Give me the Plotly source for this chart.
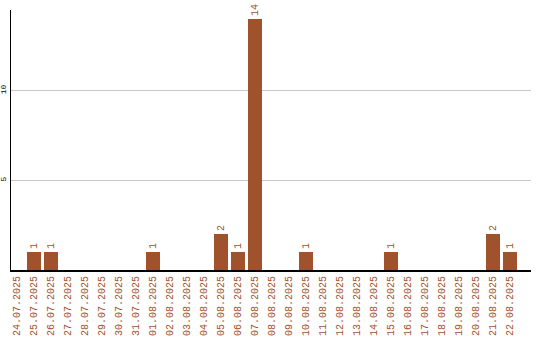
import plotly.graph_objects as go

dates = ["24.07.2025","25.07.2025","26.07.2025","27.07.2025","28.07.2025","29.07.2025",
         "30.07.2025","31.07.2025","01.08.2025","02.08.2025","03.08.2025","04.08.2025",
         "05.08.2025","06.08.2025","07.08.2025","08.08.2025","09.08.2025","10.08.2025",
         "11.08.2025","12.08.2025","13.08.2025","14.08.2025","15.08.2025","16.08.2025",
         "17.08.2025","18.08.2025","19.08.2025","20.08.2025","21.08.2025","22.08.2025"]
counts = [0,1,1,0,0,0,0,0,1,0,0,0,2,1,14,0,0,1,0,0,0,0,1,0,0,0,0,0,2,1]
y_ticks = [5, 10]

color = "#a0522d"
idx = list(range(len(dates)))
labels = [str(c) if c > 0 else "" for c in counts]

fig = go.Figure(go.Bar(
    x=idx, y=counts, width=0.82, marker=dict(color=color, line=dict(width=0)),
    text=labels, textposition="outside", textangle=-90, cliponaxis=False,
    textfont=dict(family="Liberation Mono", size=10, color=color),
))
fig.update_layout(
    width=540, height=340, margin=dict(l=11, r=9, t=10, b=70),
    plot_bgcolor="white", paper_bgcolor="white", showlegend=False,
    bargap=0,
    xaxis=dict(range=[-0.353, 30.235], tickmode="array", tickvals=idx, ticktext=dates,
               tickangle=-90, tickfont=dict(family="Liberation Mono", size=10, color=color),
               showgrid=False, showline=True, linecolor="black", linewidth=2,
               ticks="", zeroline=False, fixedrange=True, automargin=False),
    yaxis=dict(range=[0, 14.5], tickmode="array", tickvals=y_ticks,
               tickangle=-90, tickfont=dict(family="Liberation Mono", size=8, color="black"),
               showgrid=True, gridcolor="#c8c8c8", gridwidth=1,
               showline=True, linecolor="black", linewidth=1, ticks="", zeroline=False,
               ticklabelstandoff=1, automargin=False),
)
fig.write_html("out.html")
